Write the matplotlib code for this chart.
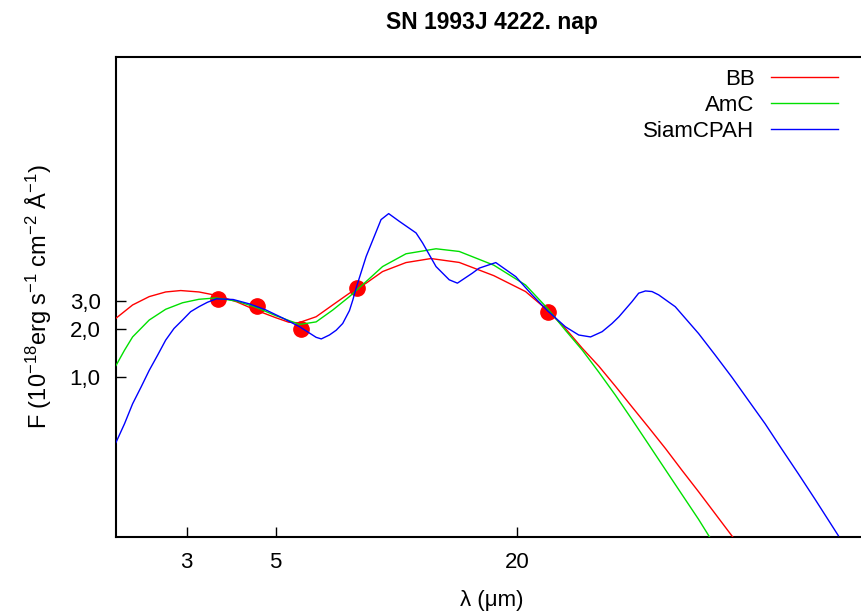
import matplotlib
matplotlib.use("Agg")
import matplotlib.pyplot as plt

plt.rcParams["font.family"] = ["Liberation Sans", "DejaVu Sans"]
plt.rcParams["mathtext.fontset"] = "custom"
plt.rcParams["mathtext.rm"] = "Liberation Sans"
plt.rcParams["mathtext.it"] = "Liberation Sans:italic"

# photometry (Spitzer IRAC + MIPS 24)
obs_wl = [3.6, 4.5, 5.8, 8.0, 23.9]
obs_flux = [3.07, 2.78, 1.99, 3.61, 2.55]

# two-component blackbody fit
bb_wl = [2.0, 2.2, 2.42, 2.66, 2.9, 3.22, 3.55, 4.0, 4.46, 5.0, 5.39, 5.7, 6.31,
         6.94, 7.64, 8.41, 9.24, 10.57, 12.2, 14.35, 17.5, 21.0, 23.8, 26.4,
         29.1, 32.0, 35.2, 38.7, 42.6, 46.9, 51.5, 56.7, 69.3]
bb_flux = [2.33, 2.82, 3.18, 3.4, 3.47, 3.4, 3.24, 2.95, 2.62, 2.35, 2.2, 2.18,
           2.38, 2.82, 3.34, 3.86, 4.56, 5.19, 5.5, 5.2, 4.3, 3.42, 2.62, 2.01,
           1.51, 1.167, 0.874, 0.65, 0.483, 0.357, 0.262, 0.192, 0.0986]

# amorphous carbon fit
amc_wl = [2.0, 2.1, 2.2, 2.42, 2.66, 2.93, 3.22, 3.55, 4.0, 4.46, 5.0, 5.74,
          6.31, 6.94, 7.64, 8.41, 9.24, 10.57, 12.56, 14.35, 17.5, 21.0, 23.8,
          26.4, 29.1, 32.0, 35.2, 38.7, 42.6, 46.9, 51.5, 56.7, 60.4]
amc_flux = [1.18, 1.47, 1.78, 2.27, 2.65, 2.91, 3.06, 3.12, 2.98, 2.73, 2.42,
            2.13, 2.21, 2.62, 3.18, 3.95, 4.9, 5.89, 6.33, 6.09, 5.0, 3.76, 2.69,
            1.96, 1.47, 1.07, 0.768, 0.542, 0.378, 0.263, 0.185, 0.129, 0.1]

# SiamCPAH fit
pah_wl = [2.0, 2.1, 2.2, 2.31, 2.42, 2.54, 2.66, 2.79, 2.93, 3.07, 3.22, 3.38,
          3.56, 3.92, 4.31, 4.72, 5.22, 5.74, 6.31, 6.5, 6.81, 7.08, 7.35, 7.64,
          7.79, 7.94, 8.41, 9.16, 9.57, 10.17, 11.2, 11.63, 12.56, 13.55, 14.2,
          15.48, 16.09, 17.7, 19.85, 21.8, 23.8, 26.4, 28.5, 30.5, 32.6, 34.5,
          35.9, 38.7, 40.2, 41.8, 43.4, 45.1, 49.6, 56.7, 62.4, 68.6, 75.5, 83.1,
          91.4, 100.6, 110.7, 126.5]
pah_flux = [0.39, 0.51, 0.68, 0.866, 1.1, 1.37, 1.7, 2.01, 2.27, 2.56, 2.75, 2.93,
            3.08, 3.05, 2.86, 2.63, 2.33, 2.06, 1.77, 1.73, 1.83, 1.96, 2.16, 2.6,
            3.03, 3.6, 5.67, 9.63, 10.5, 9.4, 7.95, 6.88, 4.9, 4.05, 3.86, 4.46,
            4.79, 5.19, 4.24, 3.26, 2.6, 2.06, 1.83, 1.78, 1.92, 2.16, 2.38, 2.96,
            3.34, 3.45, 3.42, 3.26, 2.75, 1.87, 1.37, 1.0, 0.714, 0.51, 0.355,
            0.248, 0.172, 0.102]

xticks = [3, 5, 20]
yticks = [1, 2, 3]
ytick_labels = ["1,0", "2,0", "3,0"]

fig = plt.figure(figsize=(8.61, 6.15), dpi=100)
ax = fig.add_axes([116 / 861, 78 / 615, 752 / 861, 480 / 615])

# dots under the curves, as in the original
ax.plot(obs_wl, obs_flux, "o", color="#ff0000", ms=11, zorder=2)
ax.plot(bb_wl, bb_flux, color="#ff0000", lw=1.0, label="BB", zorder=3)
ax.plot(amc_wl, amc_flux, color="#00e000", lw=1.0, label="AmC", zorder=3)
ax.plot(pah_wl, pah_flux, color="#0000ff", lw=1.0, label="SiamCPAH", zorder=3)

ax.set_xscale("log")
ax.set_yscale("log")
ax.set_xlim(2, 150)
ax.set_ylim(0.1, 100)

ax.set_xticks(xticks)
ax.set_xticklabels([str(t) for t in xticks])
ax.set_yticks(yticks)
ax.set_yticklabels(ytick_labels)
ax.minorticks_off()
ax.tick_params(direction="in", length=7, width=1, labelsize=16, pad=11)

for side in ["left", "bottom", "top", "right"]:
    ax.spines[side].set_linewidth(1.5)

ax.set_xlabel("λ (μm)", fontsize=16, labelpad=12)
ax.set_ylabel(r"F (10$^{-18}$erg s$^{-1}$ cm$^{-2}$ Å$^{-1}$)", fontsize=17, labelpad=11)
ax.set_title("SN 1993J 4222. nap", fontsize=16.5, fontweight="bold", pad=20)

ax.legend(loc="upper right", bbox_to_anchor=(0.96, 0.975), frameon=False,
          markerfirst=False, fontsize=16, handlelength=3.0, handletextpad=0.75,
          labelspacing=0.22, borderpad=0, borderaxespad=0)

fig.savefig("out.png", dpi=100)
